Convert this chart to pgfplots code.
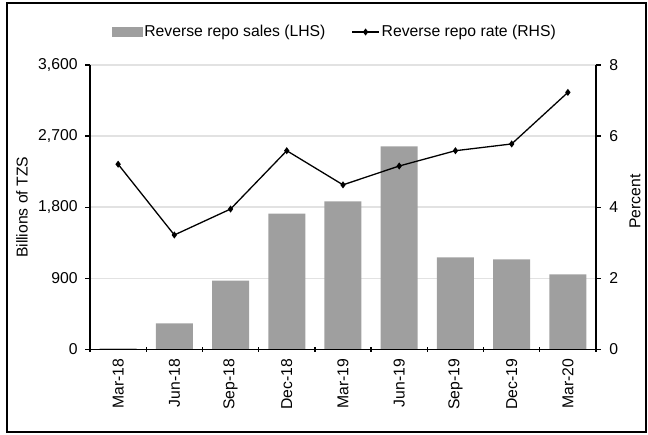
\documentclass[border=0pt]{standalone}
\usepackage{fontspec}
\setmainfont{Liberation Sans}
\usepackage{pgfplots}
\pgfplotsset{compat=1.18}
\definecolor{barcol}{RGB}{159,159,159}
\definecolor{gridcol}{RGB}{226,226,226}
\begin{document}
\fontsize{15.8}{18}\selectfont
\begin{tikzpicture}[font=\fontsize{15.8}{18}\selectfont]
\useasboundingbox (0,0) rectangle (648bp,435bp);
\draw[line width=2bp] (7bp,3bp) rectangle (646bp,432bp);
\begin{axis}[
  at={(90bp,85.5bp)}, anchor=south west, scale only axis,
  width=506bp, height=284.5bp,
  xmin=-0.5, xmax=8.5, ymin=0, ymax=3600,
  axis x line*=bottom, axis y line*=left,
  axis line style={line width=1.3bp, black},
  xtick={-0.5,0.5,...,8.5}, xticklabels={},
  ytick={0,900,1800,2700,3600},
  major tick length=5bp,
  xtick align=center, ytick align=outside,
  tick style={line width=1.3bp, black},
  ymajorgrids, grid style={line width=1.5bp, gridcol},
  /pgf/number format/1000 sep={,},
  /pgf/number format/assume math mode=true,
  yticklabel shift=2bp,
  ylabel={Billions of TZS},
  ylabel style={at={(axis description cs:-0.1344,0.5)}, anchor=center},
]
\addplot[ybar, bar width=37bp, fill=barcol, draw=none] coordinates {
  (0,15) (1,332) (2,871) (3,1718) (4,1875) (5,2571) (6,1167) (7,1141) (8,951)};
\end{axis}
\begin{axis}[
  at={(90bp,85.5bp)}, anchor=south west, scale only axis,
  width=506bp, height=284.5bp,
  xmin=-0.5, xmax=8.5, ymin=0, ymax=8,
  axis x line*=bottom, axis y line*=right,
  axis line style={line width=1.3bp, black},
  xtick={0,...,8},
  xticklabels={Mar-18,Jun-18,Sep-18,Dec-18,Mar-19,Jun-19,Sep-19,Dec-19,Mar-20},
  xtick style={draw=none},
  xticklabel style={rotate=90, anchor=east},
  xticklabel shift=4bp,
  ytick={0,2,4,6,8},
  major tick length=5bp, ytick align=outside,
  tick style={line width=1.3bp, black},
  /pgf/number format/assume math mode=true,
  yticklabel shift=3bp,
  ylabel={Percent},
  ylabel style={at={(axis description cs:1.077,0.52)}, anchor=center},
  legend columns=2,
  legend style={draw=none, fill=none, at={(axis description cs:0.484,1.116)}, anchor=center,
    /tikz/every even column/.append style={column sep=24bp}},
  legend cell align=left,
]
\addlegendimage{legend image code/.code={\fill[barcol] (0bp,-4.5bp) rectangle (30bp,4.5bp);}}
\addplot[black, line width=1.3bp, mark=diamond*, mark size=2.5bp,
  legend image code/.code={\draw[black, line width=1.3bp, mark=diamond*, mark size=2.5bp, mark repeat=2,mark phase=2] plot coordinates {(0bp,0bp) (13.5bp,0bp) (27bp,0bp)};}]
  coordinates {(0,5.21) (1,3.22) (2,3.95) (3,5.59) (4,4.63) (5,5.16) (6,5.59) (7,5.78) (8,7.23)};
\legend{Reverse repo sales (LHS), Reverse repo rate (RHS)}
\end{axis}
\end{tikzpicture}
\end{document}
